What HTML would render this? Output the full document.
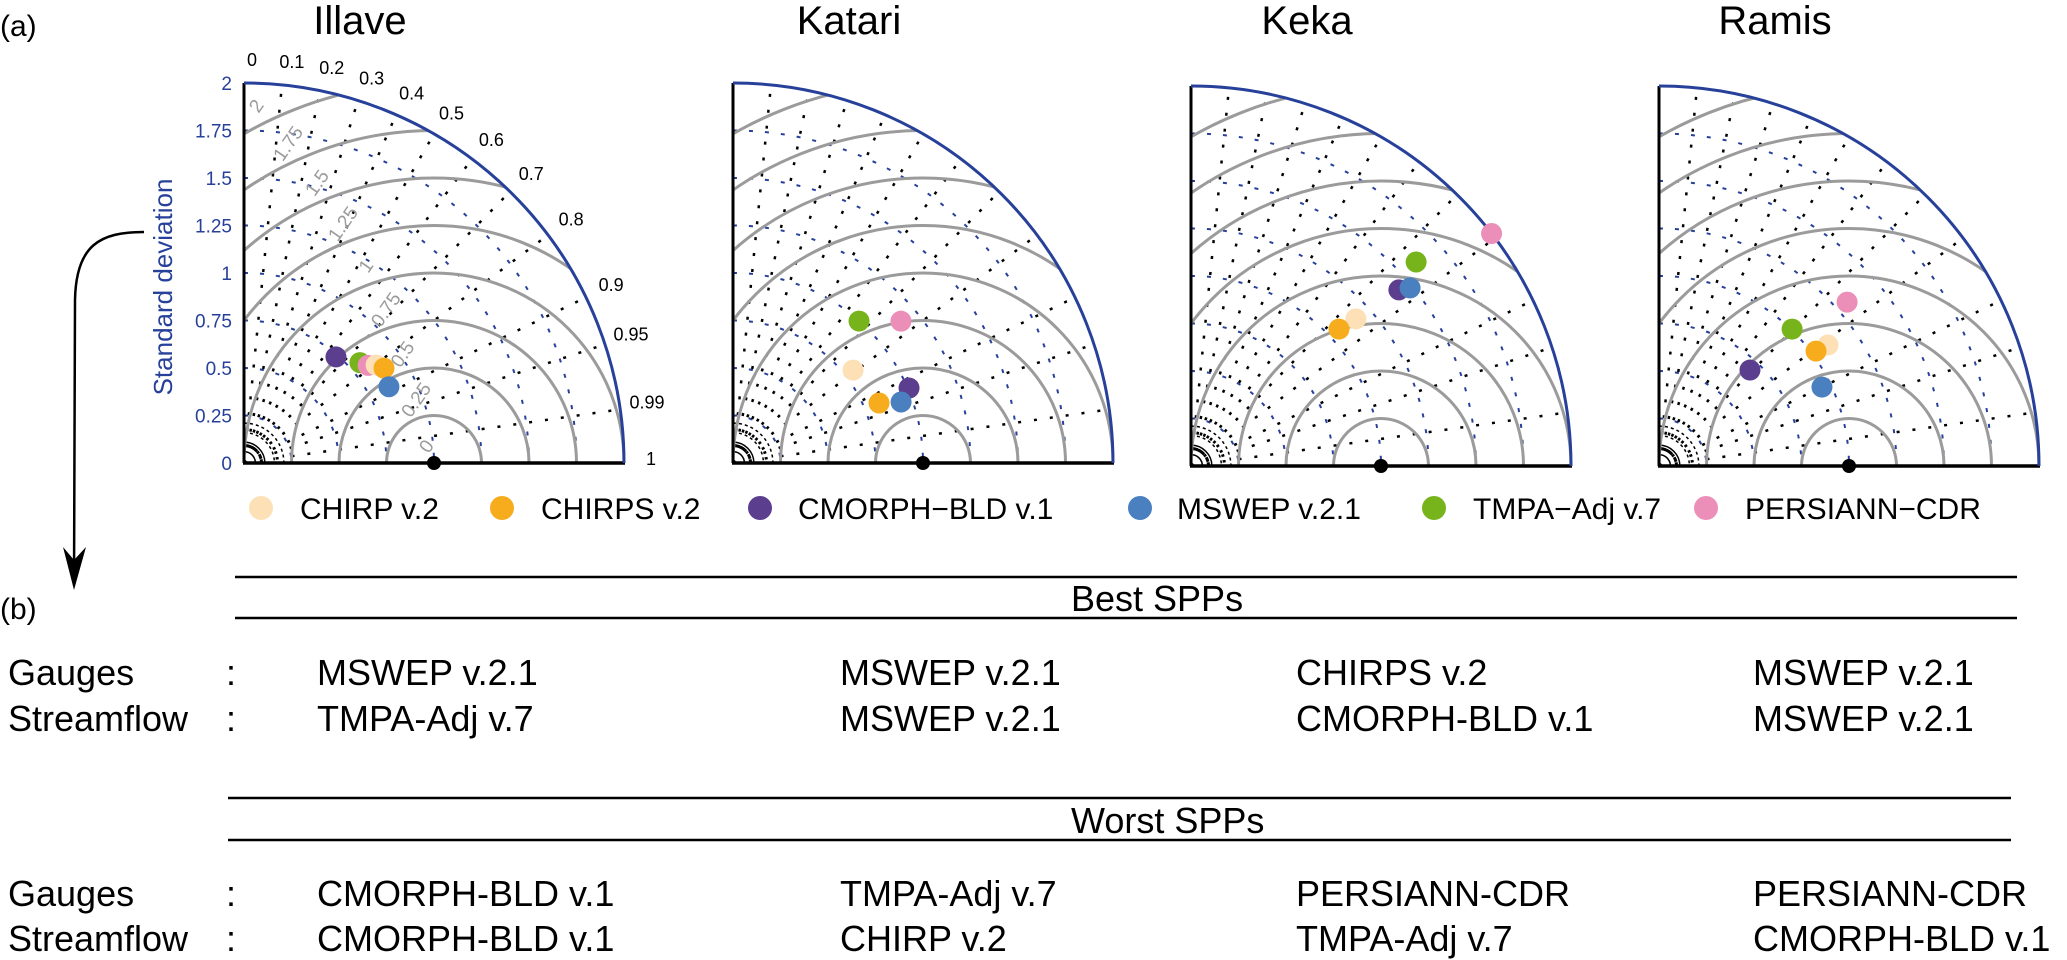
<!DOCTYPE html>
<html><head><meta charset="utf-8">
<style>
html,body{margin:0;padding:0;background:#fff;}
svg{display:block;font-family:"Liberation Sans",Arial,sans-serif;}
</style></head>
<body>
<svg id="fig" width="2067" height="960" viewBox="0 0 2067 960" xmlns="http://www.w3.org/2000/svg">
<defs></defs>
<text x="0" y="36" font-size="30">(a)</text>
<text x="0" y="619" font-size="30">(b)</text>
<path d="M144,232 C100,232 76,245 75,300 L74,585" fill="none" stroke="#000" stroke-width="2.5"/>
<path d="M63,547 L74,560 L86,547 L74,590 Z" fill="#000"/>
<g id="plots"></g>
<g id="legend"></g>
<g id="table"></g>
</svg>
<script>
const products = ['CHIRP v.2','CHIRPS v.2','CMORPH\u2212BLD v.1','MSWEP v.2.1','TMPA\u2212Adj v.7','PERSIANN\u2212CDR'];
const colors = ['#fde0b5','#f7ac1d','#5b3f8e','#4a80c0','#77b41c','#ec8fb8'];
const stations = ['Illave','Katari','Keka','Ramis'];
const stdIllave = [0.866,0.89,0.739,0.862,0.807,0.831];
const corIllave = [0.803,0.828,0.655,0.885,0.756,0.786];
const stdKatari = [0.799,0.831,1.007,0.941,0.999,1.157];
const corKatari = [0.791,0.925,0.92,0.94,0.664,0.764];
const stdKeka = [1.163,1.061,1.434,1.486,1.599,2.0];
const corKeka = [0.746,0.734,0.763,0.776,0.741,0.791];
const stdRamis = [1.094,1.024,0.696,0.953,1.005,1.313];
const corRamis = [0.813,0.807,0.688,0.9,0.697,0.754];
const stdTicks = [0,0.25,0.5,0.75,1,1.25,1.5,1.75,2];
const corTicks = [0,0.1,0.2,0.3,0.4,0.5,0.6,0.7,0.8,0.9,0.95,0.99,1];
const rmsTicks = [0.25,0.5,0.75,1,1.25,1.5,1.75,2];
const rmsLabels = ['0','0.25','0.5','0.75','1','1.25','1.5','1.75','2'];

const NS='http://www.w3.org/2000/svg';
const U=190, SMAX=2;
const origins=[[244,463],[733,463],[1191,466],[1659,466]];
const stdData=[stdIllave,stdKatari,stdKeka,stdRamis];
const corData=[corIllave,corKatari,corKeka,corRamis];
const BLUE='#27409a';
function mk(tag,attrs,parent){const e=document.createElementNS(NS,tag);for(const k in attrs)e.setAttribute(k,attrs[k]);parent.appendChild(e);return e;}
function pos(o,s,c){const a=Math.acos(Math.max(-1,Math.min(1,c)));return [o[0]+s*Math.cos(a)*U,o[1]-s*Math.sin(a)*U];}
const plots=document.getElementById('plots');
const defs=document.querySelector('defs');
stations.forEach((st,i)=>{
  const o=origins[i];
  const g=mk('g',{},plots);
  
  
  const R=SMAX*U;
  const cp=mk('clipPath',{id:'clip'+i},defs);
  mk('path',{d:`M${o[0]},${o[1]} L${o[0]},${o[1]-R} A${R},${R} 0 0 1 ${o[0]+R},${o[1]} Z`},cp);
  const t=mk('text',{x:o[0]+116,y:34,'font-size':40,'text-anchor':'middle'},g);
  t.textContent=st;
  
  
  const gridG=mk('g',{'clip-path':`url(#clip${i})`},g);
  for(let s=0.25;s<SMAX;s+=0.25){
    const a=mk('path',{d:`M${o[0]},${o[1]-s*U} A${s*U},${s*U} 0 0 1 ${o[0]+s*U},${o[1]}`,fill:'none',stroke:BLUE,'stroke-width':2,'stroke-dasharray':'4 12'},gridG);
    
    
  }
  corTicks.forEach(c=>{
    if(c===0||c===1)return;
    const p=pos(o,SMAX,c);
    const l=mk('line',{x1:o[0],y1:o[1],x2:p[0],y2:p[1],stroke:'#000','stroke-width':2.5,'stroke-dasharray':'3 13'},gridG);
    
    
  });
  [0.06,0.11].forEach(s=>{mk('path',{d:`M${o[0]},${o[1]-s*U} A${s*U},${s*U} 0 0 1 ${o[0]+s*U},${o[1]}`,fill:'none',stroke:'#000','stroke-width':1.5},gridG);});
  [0.16,0.21].forEach(s=>{mk('path',{d:`M${o[0]},${o[1]-s*U} A${s*U},${s*U} 0 0 1 ${o[0]+s*U},${o[1]}`,fill:'none',stroke:'#000','stroke-width':1.5,'stroke-dasharray':'3 3'},gridG);});
  rmsTicks.forEach(r=>{
    const c=mk('circle',{cx:o[0]+U,cy:o[1],r:r*U,fill:'none',stroke:'#9b9b9b','stroke-width':3},gridG);
    
    
  });
  const ax=mk('line',{x1:o[0],y1:o[1],x2:o[0],y2:o[1]-R,stroke:'#000','stroke-width':3},g);
  
  
  const bx=mk('line',{x1:o[0]-1,y1:o[1],x2:o[0]+R+1,y2:o[1],stroke:'#000','stroke-width':3.5},g);
  
  
  const arc=mk('path',{d:`M${o[0]},${o[1]-R} A${R},${R} 0 0 1 ${o[0]+R},${o[1]}`,fill:'none',stroke:BLUE,'stroke-width':3},g);
  
  
  const ref=mk('circle',{cx:o[0]+U,cy:o[1],r:7,fill:'#000'},g);
  
  
  if(i===0){
    stdTicks.forEach(s=>{
      const tt=mk('text',{x:o[0]-12,y:o[1]-s*U+7,'font-size':19,'text-anchor':'end',fill:BLUE},g);
      tt.textContent=String(s);
      
      
    });
    corTicks.forEach(c=>{
      const p=pos(o,2.1,c);
      const tt=mk('text',{x:p[0]+8,y:p[1]+2,'font-size':18,'text-anchor':'middle',fill:'#000'},g);
      tt.textContent=String(c);
      
      
    });
    rmsLabels.forEach((lb,k)=>{
      const r=k*0.25+0.07;
      const ang=(100+k*2)*Math.PI/180;
      const x=o[0]+U+r*U*Math.cos(ang), y=o[1]-r*U*Math.sin(ang);
      const tt=mk('text',{x:x,y:y,'font-size':19,'text-anchor':'middle',fill:'#9b9b9b',transform:`rotate(-55 ${x} ${y})`},g);
      tt.textContent=lb;
      
      
    });
    const yl=mk('text',{x:0,y:0,'font-size':26,'text-anchor':'middle',fill:BLUE,transform:`translate(172 287) rotate(-90)`},g);
    yl.textContent='Standard deviation';
    
    
  }
  const order=[2,4,5,0,1,3];
  order.forEach(k=>{
    const p=pos(o,stdData[i][k],corData[i][k]);
    const c=mk('circle',{cx:p[0],cy:p[1],r:10.5,fill:colors[k]},g);
    
    
  });
});
const legX=[[261,300],[502,541],[760,798],[1140,1177],[1434,1473],[1706,1745]];
const leg=document.getElementById('legend');
products.forEach((p,k)=>{
  const g=mk('g',{},leg);
  
  
  mk('circle',{cx:legX[k][0],cy:508,r:12,fill:colors[k]},g);
  const t=mk('text',{x:legX[k][1],y:519,'font-size':30},g);
  t.textContent=p;
});
const tb=document.getElementById('table');
const best=[['MSWEP v.2.1','MSWEP v.2.1','CHIRPS v.2','MSWEP v.2.1'],['TMPA-Adj v.7','MSWEP v.2.1','CMORPH-BLD v.1','MSWEP v.2.1']];
const worst=[['CMORPH-BLD v.1','TMPA-Adj v.7','PERSIANN-CDR','PERSIANN-CDR'],['CMORPH-BLD v.1','CHIRP v.2','TMPA-Adj v.7','CMORPH-BLD v.1']];
const colX=[317,840,1296,1753];
function line(x1,x2,y,name){const l=mk('line',{x1:x1,x2:x2,y1:y,y2:y,stroke:'#000','stroke-width':2.5},tb);}
function txt(x,y,s,name,anchor){const t=mk('text',{x:x,y:y,'font-size':36,'text-anchor':anchor||'start'},tb);t.textContent=s;return t;}
line(235,2017,577,'best-top-rule');line(235,2017,618,'best-bottom-rule');
txt(1071,611,'Best SPPs','best-heading');
line(228,2011,798,'worst-top-rule');line(228,2011,840,'worst-bottom-rule');
txt(1071,833,'Worst SPPs','worst-heading');
const rowY=[[685,731],[906,951]];
[best,worst].forEach((blk,b)=>{
  ['Gauges','Streamflow'].forEach((lab,r)=>{
    const y=rowY[b][r];
    txt(8,y,lab,'row-label-'+lab.toLowerCase());
    txt(226,y,':','row-colon');
    blk[r].forEach((s,c)=>txt(colX[c],y,s,(b?'worst':'best')+'-cell'));
  });
});
</script>
</body></html>
